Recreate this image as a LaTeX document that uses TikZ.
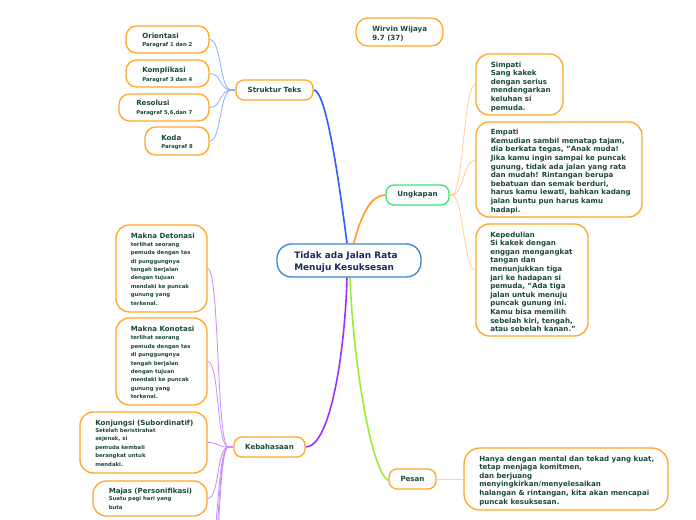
\documentclass[tikz,border=0pt]{standalone}
\usepackage{fontspec}
\setmainfont{DejaVu Sans}
\usetikzlibrary{fit,backgrounds}
\definecolor{txt}{HTML}{1B4A3A}
\definecolor{ttl}{HTML}{1A2B5C}
\definecolor{obox}{HTML}{FFA62B}
\definecolor{cbox}{HTML}{3A86D8}
\definecolor{gbox}{HTML}{3EE56B}
\definecolor{mblue}{HTML}{2F5BFF}
\definecolor{sblue}{HTML}{8FAEFF}
\definecolor{morange}{HTML}{FF9A1F}
\definecolor{sorange}{HTML}{FFD08F}
\definecolor{mpurple}{HTML}{A030FF}
\definecolor{spurple}{HTML}{C98BFF}
\definecolor{mgreen}{HTML}{99EE33}
\definecolor{sgreen}{HTML}{CCF29A}
\begin{document}
\begin{tikzpicture}[x=0.75pt,y=-0.75pt,
  box/.style={draw=obox, line width=1pt, fill=white, inner sep=0pt, rounded corners=#1},
  box/.default=8pt,
  lbl/.style={text=txt, font=\fontsize{5.3}{6.45}\selectfont\bfseries, inner sep=0pt, align=left},
  dsc/.style={text=txt, font=\fontsize{4}{6.3}\selectfont\bfseries, inner sep=0pt, align=left},
  mainln/.style={line width=1.2pt},
  subln/.style={line width=0.6pt}]
\useasboundingbox (0,0) rectangle (696,520);
\clip (0,0) rectangle (696,520);

% ---------- boxes ----------
\node[fit={(277,244) (421,277)}, draw=cbox, line width=1pt, fill=white, inner sep=0pt, rounded corners=11pt] (root) {};
\node[anchor=north west, text=ttl, font=\fontsize{6.7}{9}\selectfont\bfseries, inner sep=0pt, align=left] (rootT) at (294,251.5) {Tidak ada Jalan Rata\\Menuju Kesuksesan};

\node[box=9pt, fit={(356,18) (443,46)}] (wir) {};
\node[lbl, anchor=north west] (wirT) at (372,26) {Wirvin Wijaya\\9.7 (37)};

% Struktur Teks branch
\node[box=6pt, fit={(236,80) (313,100)}] (struk) {};
\node[lbl] (strukT) at (274.5,90) {Struktur Teks};

\node[box=8pt, fit={(126,26) (209,53)}] (orient) {};
\node[lbl, anchor=north west] (orientT) at (142,32.5) {Orientasi};
\node[dsc, anchor=north west] (orientD) at (142,42.5) {Paragraf 1 dan 2};

\node[box=8pt, fit={(126,60) (209,87)}] (kompl) {};
\node[lbl, anchor=north west] (komplT) at (142,66.5) {Komplikasi};
\node[dsc, anchor=north west] (komplD) at (142,77) {Paragraf 3 dan 4};

\node[box=8pt, fit={(119,94) (209,121)}] (resol) {};
\node[lbl, anchor=north west] (resolT) at (136,100) {Resolusi};
\node[dsc, anchor=north west] (resolD) at (136,110.5) {Paragraf 5,6,dan 7};

\node[box=8pt, fit={(145,127) (209,155)}] (koda) {};
\node[lbl, anchor=north west] (kodaT) at (161,134.5) {Koda};
\node[dsc, anchor=north west] (kodaD) at (161,144.5) {Paragraf 8};

% Ungkapan branch
\node[fit={(386,185) (449,205)}, draw=gbox, line width=1pt, fill=white, inner sep=0pt, rounded corners=6pt] (ungk) {};
\node[lbl] (ungkT) at (417.5,195) {Ungkapan};

\node[box=10pt, fit={(476,54) (563,115)}] (simp) {};
\node[lbl, anchor=north west] (simpT) at (490.5,61.5) {Simpati\\Sang kakek\\dengan serius\\mendengarkan\\keluhan si\\pemuda.};

\node[box=10pt, fit={(476,122) (642,217)}] (emp) {};
\node[lbl, anchor=north west] (empT) at (490.5,129) {Empati\\Kemudian sambil menatap tajam,\\dia berkata tegas, "Anak muda!\\Jika kamu ingin sampai ke puncak\\gunung, tidak ada jalan yang rata\\dan mudah! Rintangan berupa\\bebatuan dan semak berduri,\\harus kamu lewati, bahkan kadang\\jalan buntu pun harus kamu\\hadapi.};

\node[box=10pt, fit={(476,224) (588,336)}] (kep) {};
\node[lbl, anchor=north west] (kepT) at (490,231.5) {Kepedulian\\Si kakek dengan\\enggan mengangkat\\tangan dan\\menunjukkan tiga\\jari ke hadapan si\\pemuda, "Ada tiga\\jalan untuk menuju\\puncak gunung ini.\\Kamu bisa memilih\\sebelah kiri, tengah,\\atau sebelah kanan."};

% Kebahasaan branch
\node[box=6pt, fit={(234,437) (305,457)}] (keb) {};
\node[lbl] (kebT) at (269.5,447) {Kebahasaan};

\node[box=10pt, fit={(116,225) (207,312)}] (deton) {};
\node[lbl, anchor=north west] (detonT) at (130.5,232.5) {Makna Detonasi};
\node[dsc, anchor=north west] (detonD) at (130.5,242) {terlihat seorang\\pemuda dengan tas\\di punggungnya\\tengah berjalan\\dengan tujuan\\mendaki ke puncak\\gunung yang\\terkenal.};

\node[box=10pt, fit={(116,318) (207,405)}] (konot) {};
\node[lbl, anchor=north west] (konotT) at (130.5,326) {Makna Konotasi};
\node[dsc, anchor=north west] (konotD) at (130.5,335.5) {terlihat seorang\\pemuda dengan tas\\di punggungnya\\tengah berjalan\\dengan tujuan\\mendaki ke puncak\\gunung yang\\terkenal.};

\node[box=10pt, fit={(80,412) (207,473)}] (konj) {};
\node[lbl, anchor=north west] (konjT) at (95,419.5) {Konjungsi (Subordinatif)};
\node[dsc, anchor=north west, font=\fontsize{4}{6.4}\selectfont\bfseries] (konjD) at (95,428) {Setelah beristirahat\\sejenak, si\\pemuda kembali\\berangkat untuk\\mendaki.};

\node[box=10pt, fit={(93,481) (207,516)}] (majas) {};
\node[lbl, anchor=north west] (majasT) at (108.5,487.5) {Majas (Personifikasi)};
\node[dsc, anchor=north west, font=\fontsize{4}{6.4}\selectfont\bfseries] (majasD) at (108.5,496.5) {Suatu pagi hari yang\\buta};

\coordinate (off1) at (207,560);
\coordinate (off2) at (207,600);
\coordinate (off3) at (207,640);

% Pesan branch
\node[box=6pt, fit={(389,469) (436,489)}] (pesan) {};
\node[lbl] (pesanT) at (412.5,479) {Pesan};

\node[box=12pt, fit={(464,448) (668,510)}] (pesB) {};
\node[lbl, anchor=north west] (pesBT) at (479,455.5) {Hanya dengan mental dan tekad yang kuat,\\tetap menjaga komitmen,\\dan berjuang\\menyingkirkan/menyelesaikan\\halangan \& rintangan, kita akan mencapai\\puncak kesuksesan.};

% ---------- connectors ----------
\begin{scope}[on background layer]
\fill[white] (0,0) rectangle (696,520);
% main branches
\draw[mainln, mblue] ([xshift=-1.5pt]root.north) .. controls +(-9,-70) and +(12,0) .. (struk.east);
\draw[mainln, morange] ([xshift=3.5pt]root.north) .. controls +(8,-30) and +(-14,0) .. (ungk.west);
\draw[mainln, mpurple] ([xshift=-1.5pt]root.south) .. controls +(-2,73) and +(25,0) .. (keb.east);
\draw[mainln, mgreen] ([xshift=0.75pt]root.south) .. controls +(3,83) and +(-17,-8) .. ([yshift=-1pt]pesan.west);
\draw[subln, sgreen] (pesan.east) -- (pesB.west);

% Struktur Teks children
\coordinate (sHub) at ([xshift=-3pt]struk.west);
\draw[line width=1pt, sblue] (struk.west) -- (sHub);
\foreach \t in {orient,kompl,resol,koda}
  \draw[subln, sblue] (sHub) .. controls +(-12,0) and +(12,0) .. (\t.east);

% Ungkapan children
\coordinate (uHub) at ([xshift=1.5pt]ungk.east);
\draw[line width=1pt, sorange] (ungk.east) -- (uHub);
\draw[subln, sorange] (uHub) .. controls +(12,0) and +(-12,0) .. (simp.west);
\draw[subln, sorange] (uHub) .. controls +(12,0) and +(-12,0) .. ([yshift=7.1pt]emp.west);
\draw[subln, sorange] (uHub) .. controls +(12,0) and +(-12,0) .. ([yshift=7.5pt]kep.west);

% Kebahasaan children
\coordinate (kHub) at ([xshift=-3.75pt]keb.west);
\draw[line width=1pt, spurple] (keb.west) -- (kHub);
\foreach \t in {deton,konot,konj,majas}
  \draw[subln, spurple] (kHub) .. controls +(-12,0) and +(12,0) .. (\t.east);
\foreach \t in {off1,off2,off3}
  \draw[subln, spurple] (kHub) .. controls +(-12,0) and +(12,0) .. (\t);
\end{scope}
\end{tikzpicture}
\end{document}
